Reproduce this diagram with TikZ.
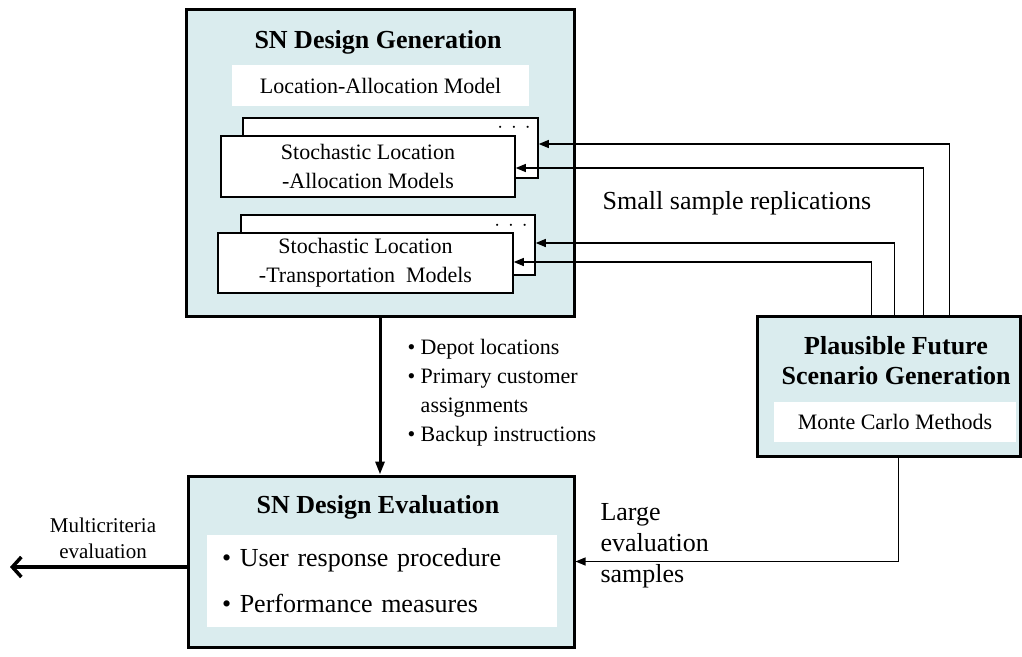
\documentclass[tikz,border=0pt]{standalone}
\usepackage{fontspec}
\setmainfont{Liberation Serif}
\usetikzlibrary{calc,arrows.meta}
\definecolor{boxfill}{RGB}{218,236,238}
\newcommand{\titletxt}{\fontsize{26}{30}\selectfont}
\newcommand{\midtxt}{\fontsize{22}{29}\selectfont}

\begin{document}
\begin{tikzpicture}[x=1pt, y=-1pt,
	bigbox/.style={draw, line width=3pt, fill=boxfill, inner sep=0pt},
	whitebox/.style={fill=white, inner sep=0pt},
	modelbox/.style={draw, line width=1.5pt, fill=white, inner sep=0pt, align=center, font=\midtxt},
	feed/.style={line width=1.2pt, -{Triangle[length=10pt,width=8pt]}},
	mainarr/.style={line width=3pt, -{Triangle[length=13pt,width=9pt]}},
	exitarr/.style={line width=3.5pt, -{Straight Barb[length=9pt,width=20pt]}}]
			%%%%% START %%%%%
			\useasboundingbox (0,0) rectangle (1022,656);
			
			% design generation
			\node[bigbox, minimum width=388, minimum height=307] (gen) at (380,162.5) {};
			\node[font=\titletxt\bfseries] (gentitle) at (378,42) {SN Design Generation};
			\node[whitebox, minimum width=297, minimum height=41, font=\midtxt] (lam) at (380.5,85.5) {Location-Allocation Model};
			
			\node[modelbox, minimum width=295, minimum height=60] (sab) at (390.5,148) {};
			\node[font=\midtxt] (sadots) at (514,128) {$\cdot\,\cdot\,\cdot$};
			\node[modelbox, minimum width=294, minimum height=61] (saf) at (368,166.5) {Stochastic Location\\-Allocation Models};
			
			\node[modelbox, minimum width=294, minimum height=60] (stb) at (388,245) {};
			\node[font=\midtxt] (stdots) at (511,226) {$\cdot\,\cdot\,\cdot$};
			\node[modelbox, minimum width=295, minimum height=60] (stf) at (365.5,263) {Stochastic Location\\-Transportation~ Models};
			
			% scenario generation
			\node[bigbox, minimum width=263, minimum height=140] (pfs) at (888.5,386) {};
			\node[font=\titletxt\bfseries, align=center] (pfstitle) at (896,361) {Plausible Future\\Scenario Generation};
			\node[whitebox, minimum width=242, minimum height=40, font=\midtxt] (mcm) at (895,422) {Monte Carlo Methods};
			
			% design evaluation
			\node[bigbox, minimum width=386, minimum height=171] (eval) at (381,561.5) {};
			\node[font=\titletxt\bfseries] (evaltitle) at (378,507) {SN Design Evaluation};
			\node[whitebox, minimum width=350, minimum height=92, align=left, text width=320, font=\fontsize{26}{46}\selectfont] (evitems) at (382,581) {\textbullet\ User response procedure\\\textbullet\ Performance measures};
			
			% replications
			\draw[feed] ($(pfs.north west)+(194,0)$) |- ($(sab.east)+(0,-4)$);
			\draw[feed] ($(pfs.north west)+(168,0)$) |- ($(saf.east)+(0,1.5)$);
			\draw[feed] ($(pfs.north west)+(139,0)$) |- ($(stb.east)+(0,-2)$);
			\draw[feed] ($(pfs.north west)+(116,0)$) |- ($(stf.east)+(0,-1)$);
			\node[font=\titletxt] (replab) at (737,203) {Small sample replications};
			
			\draw[feed] ($(pfs.south west)+(143,0)$) |- (eval.east);
			\node[font=\fontsize{26}{31}\selectfont, align=left, anchor=west] (samplab) at (597,546) {Large\\evaluation\\samples};
			
			% design to evaluation
			\draw[mainarr] (gen.south) -- (gen.south |- eval.north);
			\node[font=\fontsize{22}{29}\selectfont, align=left, anchor=west] (outlab) at (404,393) {\textbullet\ Depot locations\\\textbullet\ Primary customer\\\phantom{\textbullet\ }assignments\\\textbullet\ Backup instructions};
			
			\coordinate (exit) at (10,567);
			\draw[exitarr] (eval.west |- exit) -- (exit);
			\node[font=\fontsize{21}{26}\selectfont, align=center] (multlab) at (103,538) {Multicriteria\\evaluation};
			
			%%%%% END %%%%%
\end{tikzpicture}
\end{document}
